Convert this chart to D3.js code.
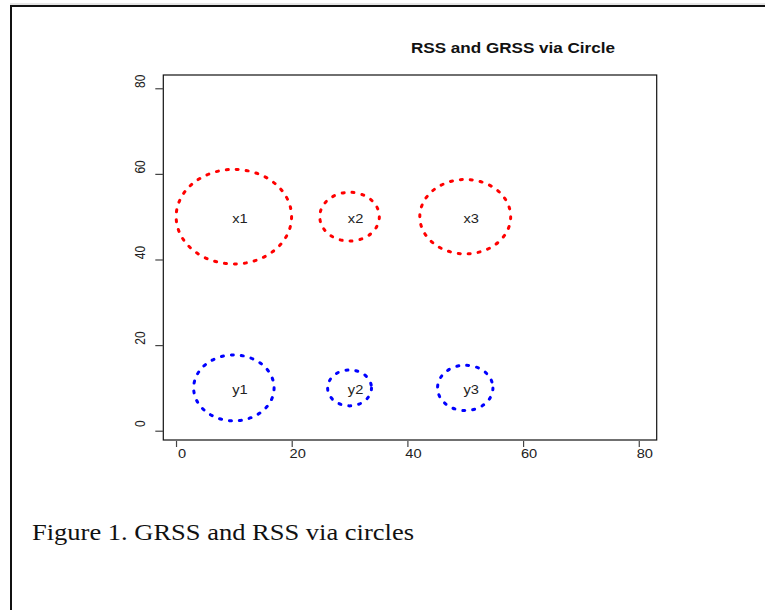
<!DOCTYPE html>
<html>
<head>
<meta charset="utf-8">
<script src="https://cdn.jsdelivr.net/npm/d3@7/dist/d3.min.js"></script>
<style>
  body { margin: 0; background: #fff; }
  svg { display: block; }
</style>
</head>
<body>
<div id="chart"></div>
<script>
// values
var xTicks = [0, 20, 40, 60, 80];
var yTicks = [0, 20, 40, 60, 80];
var groupX = ["x1", "x2", "x3"];
var groupY = ["y1", "y2", "y3"];
var centers = [10, 30, 50];
var rowX = 50, rowY = 10;
var radiiX = [11.05, 5.7, 8.7];
var radiiY = [7.7, 4.2, 5.3];
var title = "RSS and GRSS via Circle";
var caption = "Figure 1. GRSS and RSS via circles";

var width = 765, height = 610;
var stretch = 1.22;   // picture is wider than tall by this much

var svg = d3.select("#chart").append("svg")
    .attr("width", width)
    .attr("height", height);

// page frame
svg.append("line").attr("x1", 10).attr("x2", width).attr("y1", 4).attr("y2", 4)
    .style("stroke", "#ccc").style("stroke-width", 1);
svg.append("line").attr("x1", 10).attr("x2", width).attr("y1", 6).attr("y2", 6)
    .style("stroke", "#111").style("stroke-width", 2);
svg.append("line").attr("x1", 11).attr("x2", 11).attr("y1", 5).attr("y2", height)
    .style("stroke", "#111").style("stroke-width", 2);

var x = d3.scaleLinear().domain([-2.2, 83.1]).range([163.3, 656.7]);
var y = d3.scaleLinear().domain([-2.17, 83.1]).range([440, 75]);

// plot box
svg.append("rect")
    .attr("x", x.range()[0]).attr("y", y.range()[1])
    .attr("width", x.range()[1] - x.range()[0])
    .attr("height", y.range()[0] - y.range()[1])
    .style("fill", "none").style("stroke", "#111").style("stroke-width", 1.2);

// x axis
var xAxis = d3.axisBottom(x).tickValues(xTicks).tickSize(6).tickFormat("");
var gx = svg.append("g").attr("transform", "translate(0,441)").call(xAxis);
gx.select(".domain").remove();
gx.selectAll(".tick line").style("stroke", "#444").style("stroke-width", 1.2);

svg.selectAll(".xlab").data(xTicks).enter().append("text")
    .attr("class", "xlab")
    .attr("transform", function(d){ return "translate(" + (x(d) + 6) + ",457.5) scale(" + stretch + ",1)"; })
    .attr("text-anchor", "middle")
    .style("font-family", "Liberation Sans, Arial, sans-serif")
    .style("font-size", "12px")
    .style("fill", "#222")
    .text(function(d){ return d; });

// y axis
var yAxis = d3.axisLeft(y).tickValues(yTicks).tickSize(8).tickFormat("");
var gy = svg.append("g").attr("transform", "translate(" + x.range()[0] + ",0)").call(yAxis);
gy.select(".domain").remove();
gy.selectAll(".tick line").style("stroke", "#444").style("stroke-width", 1.2);

svg.selectAll(".ylab").data(yTicks).enter().append("text")
    .attr("class", "ylab")
    .attr("transform", function(d){ return "translate(145," + (y(d) - 7) + ") scale(" + stretch + ",1) rotate(-90)"; })
    .attr("text-anchor", "middle")
    .style("font-family", "Liberation Sans, Arial, sans-serif")
    .style("font-size", "12px")
    .style("fill", "#222")
    .text(function(d){ return d; });

// circles
function drawRow(names, radii, rowVal, color){
    var data = names.map(function(n, i){ return {name: n, cx: centers[i], cy: rowVal, r: radii[i]}; });

    svg.selectAll(".c-" + color.slice(1)).data(data).enter().append("ellipse")
        .attr("cx", function(d){ return x(d.cx); })
        .attr("cy", function(d){ return y(d.cy); })
        .attr("ry", function(d){ return y(0) - y(d.r); })
        .attr("rx", function(d){ return (y(0) - y(d.r)) * stretch; })
        .style("fill", "none")
        .style("stroke", color)
        .style("stroke-width", 3)
        .style("stroke-dasharray", "2,8")
        .style("stroke-linecap", "round");

    svg.selectAll(".t-" + color.slice(1)).data(data).enter().append("text")
        .attr("transform", function(d){ return "translate(" + (x(d.cx) + 6) + "," + (y(d.cy) + 6.5) + ") scale(" + stretch + ",1)"; })
        .attr("text-anchor", "middle")
        .style("font-family", "Liberation Sans, Arial, sans-serif")
        .style("font-size", "12px")
        .style("fill", "#222")
        .text(function(d){ return d.name; });
}
drawRow(groupX, radiiX, rowX, "#ff0000");
drawRow(groupY, radiiY, rowY, "#0000ff");

// title
svg.append("text")
    .attr("x", 513).attr("y", 52.7)
    .attr("text-anchor", "middle")
    .attr("textLength", 204)
    .attr("lengthAdjust", "spacingAndGlyphs")
    .style("font-family", "Liberation Sans, Arial, sans-serif")
    .style("font-weight", "bold")
    .style("font-size", "14px")
    .style("fill", "#111")
    .text(title);

// caption
svg.append("text")
    .attr("x", 32).attr("y", 539.5)
    .attr("textLength", 382)
    .attr("lengthAdjust", "spacingAndGlyphs")
    .style("font-family", "Liberation Serif, Times New Roman, serif")
    .style("font-size", "23.5px")
    .style("fill", "#111")
    .text(caption);
</script>
</body>
</html>
